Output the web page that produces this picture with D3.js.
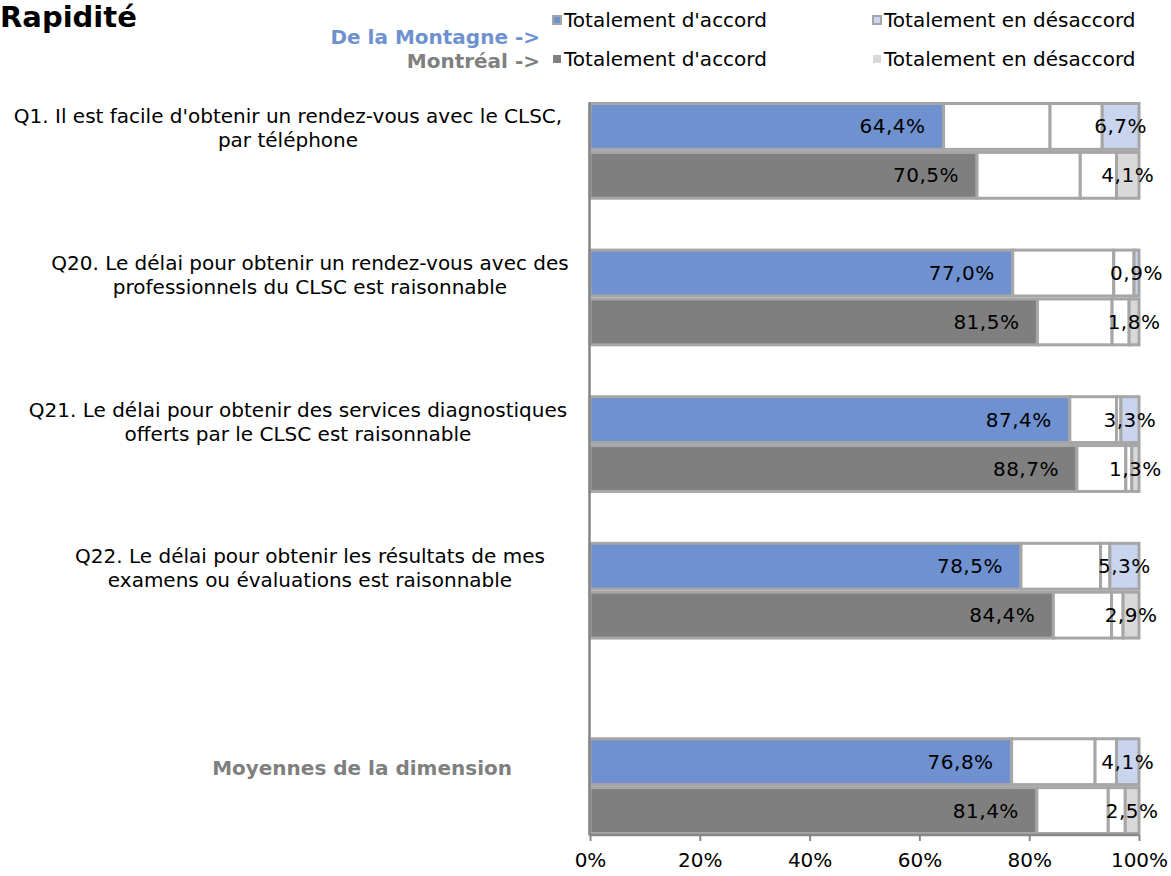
<!DOCTYPE html>
<html><head><meta charset="utf-8">
<script src="https://cdn.jsdelivr.net/npm/d3@7"></script>
<style>
html,body{margin:0;padding:0;background:#fff;}
svg{display:block;font-family:"DejaVu Sans",Verdana,sans-serif;}
</style></head>
<body>
<svg id="chart" width="1171" height="876"></svg>
<script>
// ---- data ----
const categories = [
  "Q1. Il est facile d'obtenir un rendez-vous avec le CLSC,|par téléphone",
  "Q20. Le délai pour obtenir un rendez-vous avec des|professionnels du CLSC est raisonnable",
  "Q21. Le délai pour obtenir des services diagnostiques|offerts par le CLSC est raisonnable",
  "Q22. Le délai pour obtenir les résultats de mes|examens ou évaluations est raisonnable",
  "Moyennes de la dimension"
];
const groups = ["De la Montagne", "Montréal"];
const segments = ["Totalement d'accord", "Plutôt d'accord", "Plutôt en désaccord", "Totalement en désaccord"];
const montagneTotAccord     = [64.4, 77.0, 87.4, 78.5, 76.8];
const montagnePlutotAccord  = [19.4, 18.4,  8.5, 14.5, 15.2];
const montagnePlutotDesacc  = [ 9.5,  3.7,  0.8,  1.7,  3.9];
const montagneTotDesacc     = [ 6.7,  0.9,  3.3,  5.3,  4.1];
const montrealTotAccord     = [70.5, 81.5, 88.7, 84.4, 81.4];
const montrealPlutotAccord  = [18.8, 13.6,  8.9, 10.6, 13.0];
const montrealPlutotDesacc  = [ 6.6,  3.1,  1.1,  2.1,  3.1];
const montrealTotDesacc     = [ 4.1,  1.8,  1.3,  2.9,  2.5];
const xTicks = [0, 20, 40, 60, 80, 100];

// ---- styles / layout ----
const fills = {
  "De la Montagne": ["#6f91d0", "#ffffff", "#ffffff", "#c9d4ee"],
  "Montréal":       ["#7f7f7f", "#ffffff", "#ffffff", "#d9d9d9"]
};
const strokeCol = "#a6a6a6";
const labelCx = [288, 310, 298, 310];
const FS = 20;

const svg = d3.select("#chart");
const margin = {left: 590, right: 32, top: 102, bottom: 41};
const W = 1171, H = 876;

const x = d3.scaleLinear().domain([0, 100]).range([margin.left, W - margin.right]);
const y = d3.scaleBand().domain(categories).range([margin.top, H - margin.bottom]).padding(0);
const slot = d3.scaleBand().domain([0, 1, 2]).range([0, y.bandwidth()]).padding(0);

const seriesData = {
  "De la Montagne": [montagneTotAccord, montagnePlutotAccord, montagnePlutotDesacc, montagneTotDesacc],
  "Montréal": [montrealTotAccord, montrealPlutotAccord, montrealPlutotDesacc, montrealTotDesacc]
};

const fmt = v => d3.format(".1f")(v).replace(".", ",") + "%";

// bars
const rows = [];
categories.forEach((c, ci) => {
  const isAvg = ci === categories.length - 1;
  groups.forEach((g, gi) => {
    let cum = 0;
    const segs = seriesData[g].map((arr, si) => {
      const s = {cat: c, ci, group: g, gi, si, v0: cum, v1: cum + arr[ci], v: arr[ci]};
      cum += arr[ci];
      return s;
    });
    rows.push({cat: c, ci, group: g, gi, slotIdx: gi + (isAvg ? 1 : 0), segs});
  });
});

const sw = 3;
const barG = svg.append("g");
rows.forEach(r => {
  const y0 = y(r.cat) + slot(r.slotIdx) + sw / 2;
  const h = slot.bandwidth() - sw;
  barG.selectAll(null).data(r.segs).join("rect")
    .attr("x", d => x(d.v0))
    .attr("y", y0)
    .attr("width", d => Math.max(0, x(d.v1) - x(d.v0)))
    .attr("height", h)
    .attr("fill", d => fills[r.group][d.si])
    .attr("stroke", strokeCol)
    .attr("stroke-width", sw);
  const cy = y0 + h / 2;
  const first = r.segs[0], last = r.segs[3];
  barG.append("text")
    .attr("x", x(first.v1) - 18)
    .attr("y", cy)
    .attr("dy", "0.35em")
    .attr("text-anchor", "end")
    .attr("font-size", FS)
    .attr("letter-spacing", 0.5)
    .attr("fill", "#000")
    .text(fmt(first.v));
  barG.append("text")
    .attr("x", (x(last.v0) + x(last.v1)) / 2)
    .attr("y", cy)
    .attr("dy", "0.35em")
    .attr("text-anchor", "middle")
    .attr("font-size", FS)
    .attr("letter-spacing", 0.5)
    .attr("fill", "#000")
    .text(fmt(last.v));
});

// axes
const axisCol = "#868686";
const xAxis = svg.append("g").attr("transform", `translate(0,${H - margin.bottom})`)
  .call(d3.axisBottom(x).tickValues(xTicks).tickSize(6).tickFormat(d => d + "%"));
xAxis.select(".domain").attr("stroke", axisCol).attr("stroke-width", 2.5)
  .attr("d", `M${x(0)},0H${x(100)}`);
xAxis.selectAll(".tick line").attr("stroke", axisCol).attr("stroke-width", 2);
xAxis.selectAll(".tick text").attr("font-size", FS)
  .attr("font-family", "DejaVu Sans, Verdana, sans-serif").attr("fill", "#000").attr("dy", "1.15em");

const yAxis = svg.append("g").attr("transform", `translate(${x(0) - 1},0)`)
  .call(d3.axisLeft(y).tickSize(0).tickFormat(""));
yAxis.select(".domain").attr("stroke", axisCol).attr("stroke-width", 2.5);

// category labels
categories.forEach((c, ci) => {
  const isAvg = ci === categories.length - 1;
  if (isAvg) {
    svg.append("text")
      .attr("x", 512).attr("y", y(c) + y.bandwidth() / 2 + 6)
      .attr("dy", "0.35em").attr("text-anchor", "end")
      .attr("font-size", FS).attr("font-weight", "bold").attr("fill", "#7f7f7f")
      .text(c);
  } else {
    const lines = c.split("|");
    const cy = y(c) + slot(0) + slot.bandwidth() / 2 + 2;
    const t = svg.append("text").attr("text-anchor", "middle").attr("font-size", FS).attr("fill", "#000");
    lines.forEach((l, li) => {
      t.append("tspan").attr("x", labelCx[ci])
        .attr("y", cy + (li - (lines.length - 1) / 2) * 24)
        .attr("dy", "0.35em").text(l);
    });
  }
});

// title
svg.append("text").attr("x", 0).attr("y", 27).attr("font-size", 29).attr("font-weight", "bold")
  .attr("fill", "#000").text("Rapidité");

// legend
const legendNameCols = {"De la Montagne": "#6f91d0", "Montréal": "#808080"};
const legRowsY = [20, 59];
const legNameY = [37, 61];
const legColX = [552, 872];
groups.forEach((g, gi) => {
  svg.append("text").attr("x", 540).attr("y", legNameY[gi]).attr("dy", "0.35em")
    .attr("text-anchor", "end").attr("font-size", FS).attr("font-weight", "bold")
    .attr("fill", legendNameCols[g]).text(g + " ->");
  [0, 3].forEach((si, k) => {
    const lx = legColX[k], ly = legRowsY[gi];
    svg.append("rect").attr("x", lx + 1).attr("y", ly - 4).attr("width", 8).attr("height", 8)
      .attr("fill", fills[g][si])
      .attr("stroke", gi === 0 ? strokeCol : "none").attr("stroke-width", 2);
    svg.append("text").attr("x", lx + 12).attr("y", ly).attr("dy", "0.35em")
      .attr("font-size", FS).attr("fill", "#000").text(segments[si]);
  });
});
</script>
</body></html>
